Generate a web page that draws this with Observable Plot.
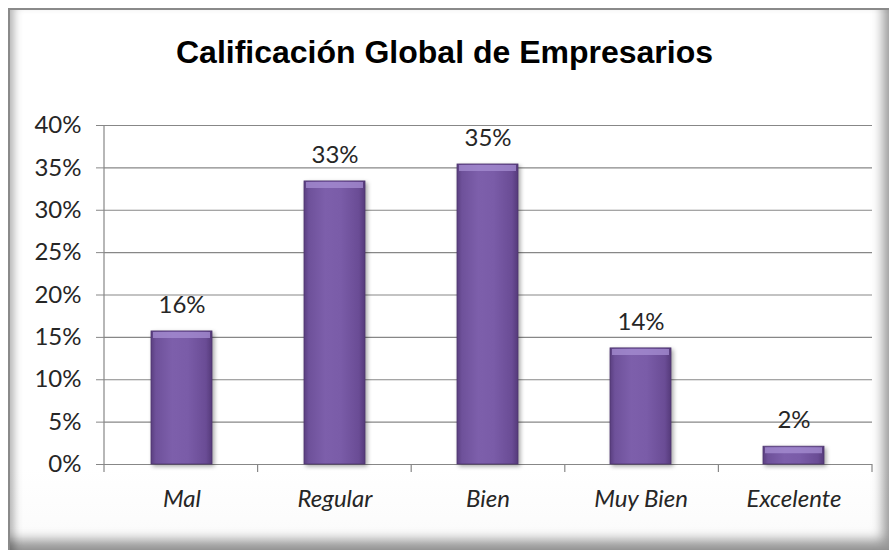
<!DOCTYPE html>
<html>
<head>
<meta charset="utf-8">
<script src="https://cdn.jsdelivr.net/npm/d3@7"></script>
<script src="https://cdn.jsdelivr.net/npm/@observablehq/plot@0.6"></script>
<style>
  html, body { margin: 0; padding: 0; background: #fff; }
  #wrap { position: relative; width: 889px; height: 550px; overflow: hidden; background: #fff; }
  #frame {
    position: absolute; left: 8px; top: 8px; width: 881px; height: 542px;
    box-sizing: border-box;
    border-top: 2px solid #8a8a8a; border-left: 2px solid #8a8a8a;
    background: linear-gradient(#ffffff, #ffffff 85%, #fafafa);
    box-shadow: inset 9px 0 9px -5px rgba(0,0,0,0.30), inset -12px -16px 12px -6px rgba(0,0,0,0.40);
  }
  #title {
    position: absolute; left: 0; top: 36px; width: 889px; text-align: center;
    font: bold 32px "Liberation Sans", Arial, sans-serif; line-height: 32px; color: #000;
  }
  #chart { position: absolute; left: 0; top: 0; }
  #chart svg { background: transparent; overflow: visible; }
  g[aria-label="bar"] rect { filter: drop-shadow(2px 2px 2px rgba(0,0,0,0.35)); }
  g[aria-label^="x-axis"] text { font-style: italic; }
</style>
</head>
<body>
<div id="wrap">
  <div id="frame"></div>
  <div id="title">Calificación Global de Empresarios</div>
  <div id="chart"></div>
</div>
<script>
const categories = ["Mal", "Regular", "Bien", "Muy Bien", "Excelente"];
const values = [0.157, 0.334, 0.354, 0.137, 0.021];
const yTicks = [0, 0.05, 0.10, 0.15, 0.20, 0.25, 0.30, 0.35, 0.40];

const data = categories.map((c, i) => ({cat: c, value: values[i]}));
const gridColor = "#878787";

function decor(index, scales, vals, dims) {
  const {width, height, marginLeft, marginRight, marginTop, marginBottom} = dims;
  const g = d3.create("svg:g");
  const defs = g.append("defs");
  const grad = defs.append("linearGradient").attr("id", "barGrad")
    .attr("x1", "0").attr("y1", "0").attr("x2", "1").attr("y2", "0");
  [[0, "#5a3f80"], [0.08, "#6e519a"], [0.35, "#7d5fab"], [0.6, "#7a5ca8"], [0.9, "#6a4c95"], [1, "#553a7a"]]
    .forEach(([o, c]) => grad.append("stop").attr("offset", o).attr("stop-color", c));
  const x0 = marginLeft, x1 = width - marginRight, y0 = height - marginBottom;
  const step = (x1 - x0) / categories.length;
  const lines = g.append("g").attr("stroke", gridColor).attr("stroke-width", 1.2);
  lines.append("line").attr("x1", x0).attr("x2", x0).attr("y1", marginTop).attr("y2", y0);
  for (let k = 0; k <= categories.length; ++k) {
    const x = x0 + k * step;
    lines.append("line").attr("x1", x).attr("x2", x).attr("y1", y0).attr("y2", y0 + 8);
  }
  return g.node();
}

const plot = Plot.plot({
  width: 889,
  height: 550,
  marginLeft: 104,
  marginRight: 17,
  marginTop: 125,
  marginBottom: 86,
  style: {background: "transparent", fontFamily: "Lato, 'Open Sans', sans-serif", fontSize: "24px", color: "#262626"},
  x: {domain: categories, paddingInner: 0.6, paddingOuter: 0.3, label: null},
  y: {domain: [0, 0.40], label: null},
  marks: [
    Plot.ruleY(yTicks, {stroke: gridColor, strokeWidth: 1.2}),
    decor,
    Plot.axisY({ticks: yTicks, tickFormat: d3.format(".0%"), tickSize: 8, tickPadding: 15, stroke: gridColor, label: null, fontSize: 24}),
    Plot.axisX({tickSize: 0, tickPadding: 25, label: null, fontSize: 24, fontStyle: "italic"}),
    Plot.barY(data, {x: "cat", y: "value", fill: "url(#barGrad)", stroke: "#4e356f", strokeWidth: 0.8}),
    Plot.tickY(data, {x: "cat", y: "value", stroke: "#a78fd3", strokeOpacity: 0.75, strokeWidth: 6, dy: 3.6, insetLeft: 2, insetRight: 2}),
    Plot.text(data, {x: "cat", y: "value", text: d => d3.format(".0%")(d.value), dy: -26, lineAnchor: "middle", fontSize: 24, fill: "#262626"})
  ]
});
document.getElementById("chart").appendChild(plot);
</script>
</body>
</html>
